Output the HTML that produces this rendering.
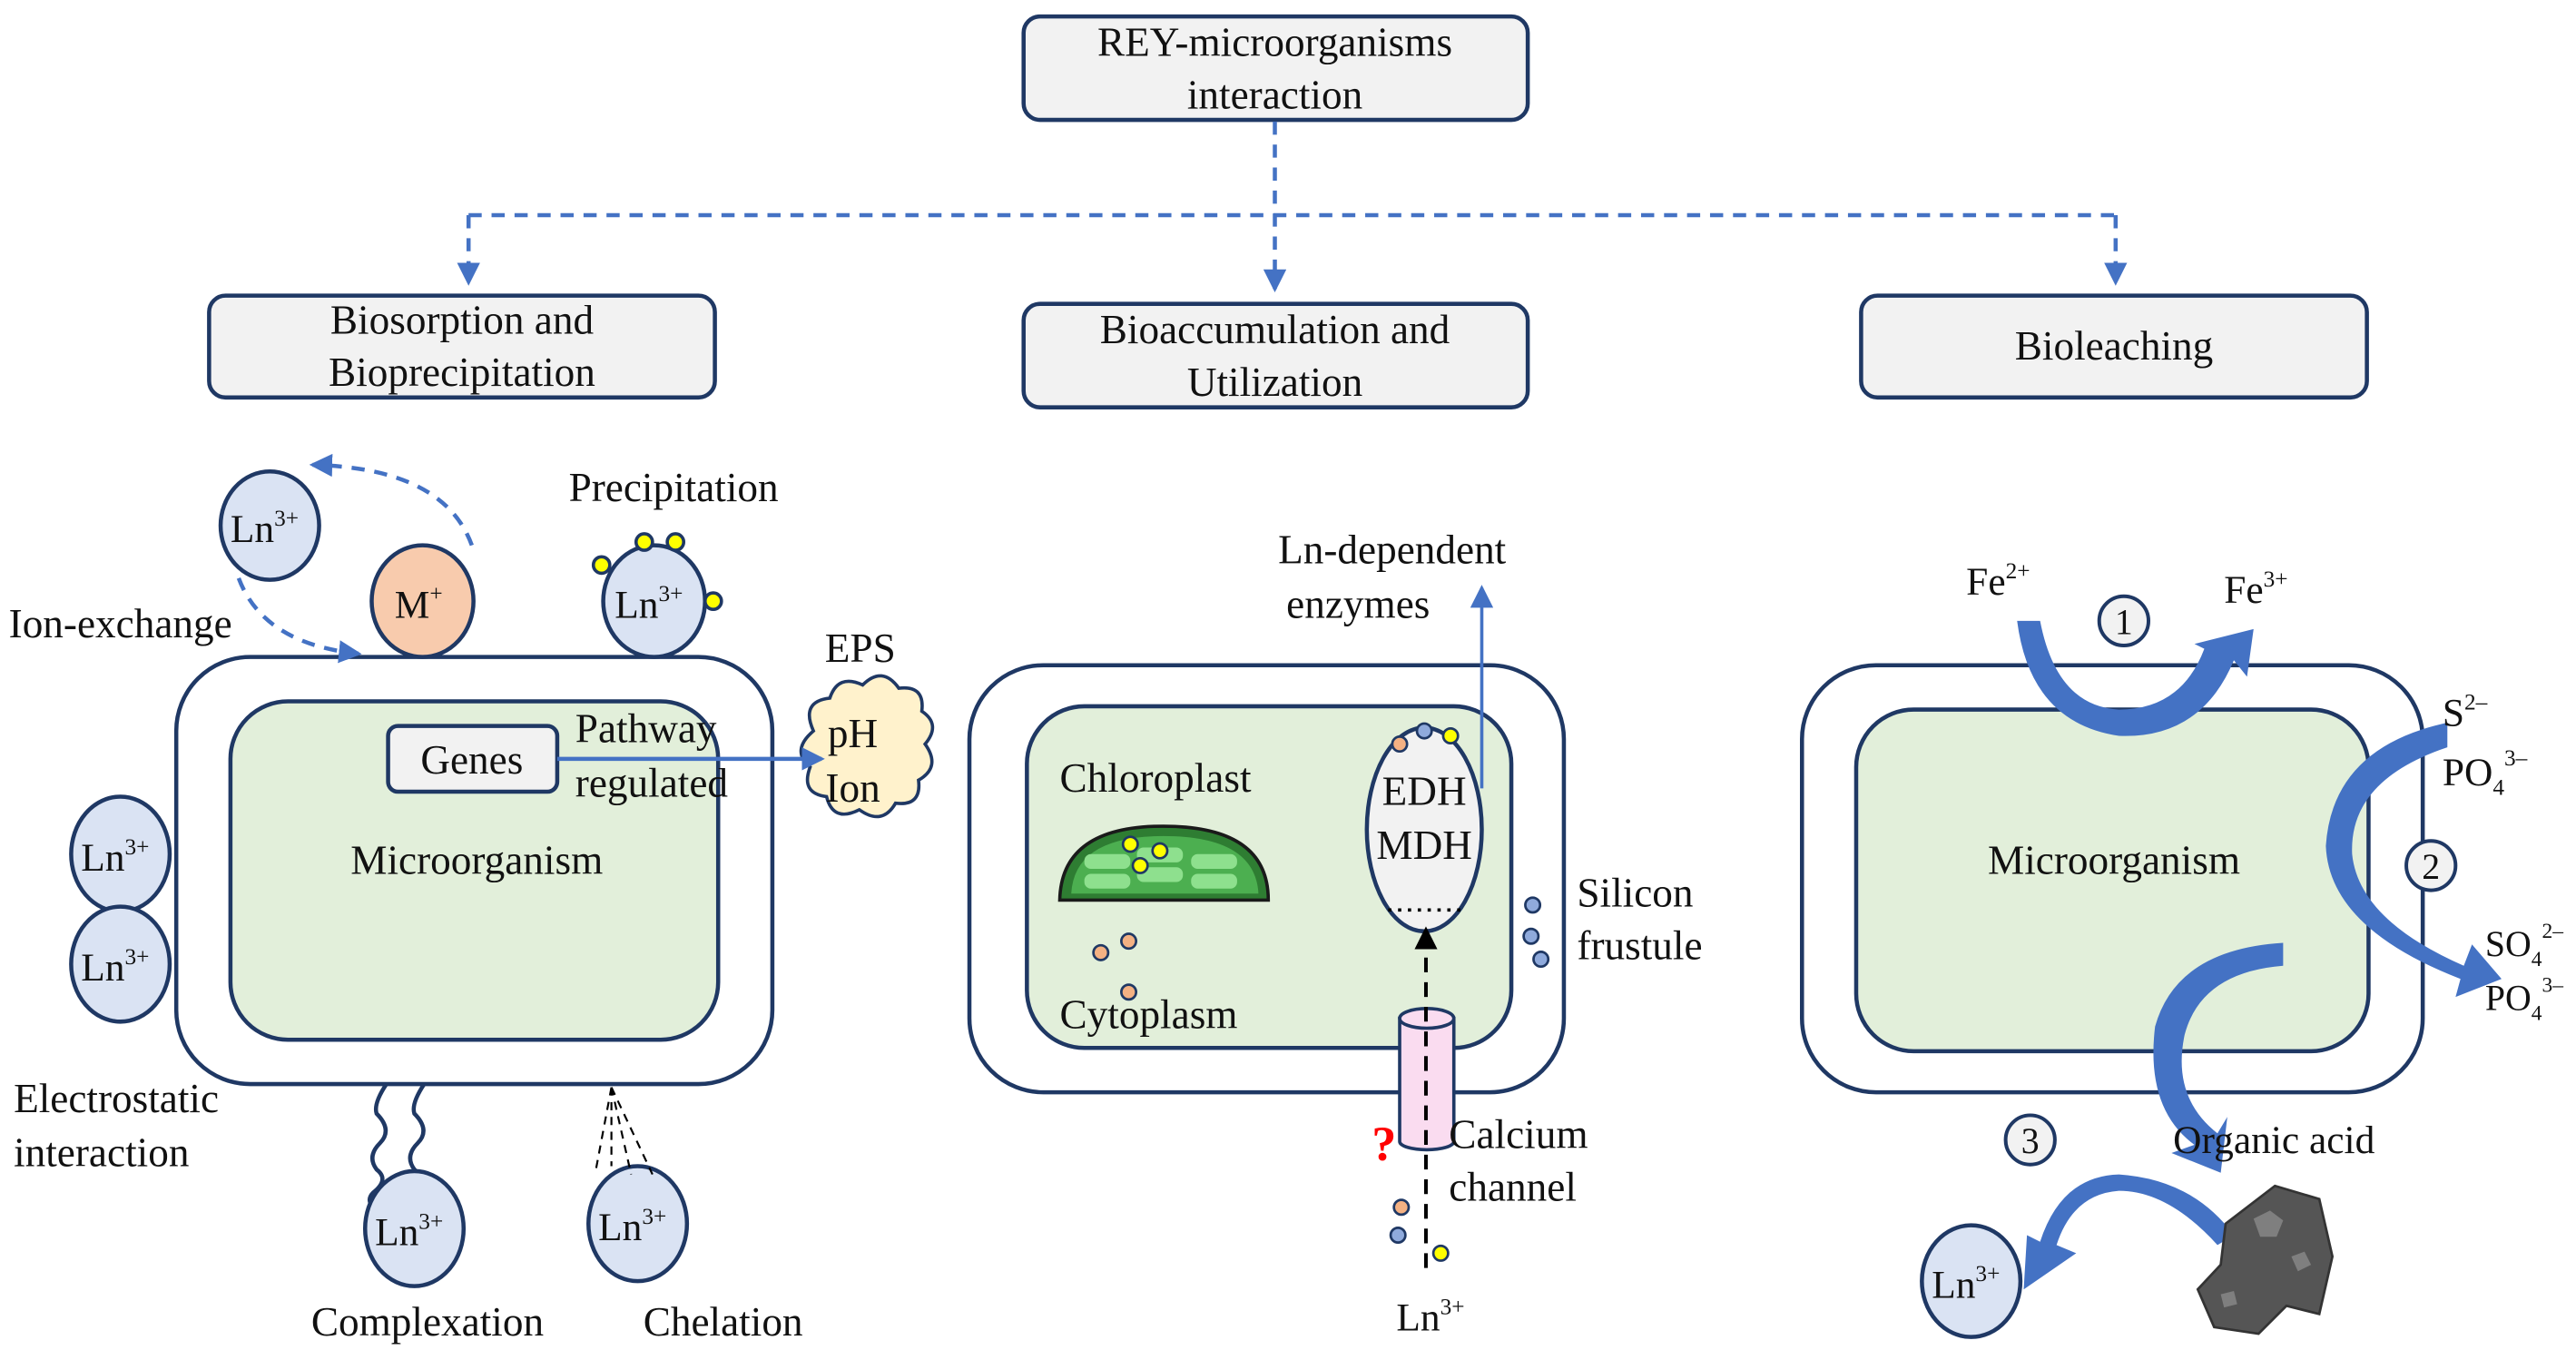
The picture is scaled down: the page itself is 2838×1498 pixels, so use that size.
<!DOCTYPE html>
<html><head><meta charset="utf-8"><style>
html,body{margin:0;padding:0;background:#fff;}
svg{display:block;}
text{font-family:"Liberation Serif",serif;fill:#111;}
</style></head><body>
<svg width="2838" height="1498" viewBox="0 0 1568 828" xmlns="http://www.w3.org/2000/svg">
<defs>
<marker id="ab" markerWidth="14" markerHeight="14" refX="12" refY="7" orient="auto" markerUnits="userSpaceOnUse"><path d="M0,0 L14,7 L0,14 z" fill="#4472c4"/></marker>
<marker id="ak" markerWidth="14" markerHeight="14" refX="12" refY="7" orient="auto" markerUnits="userSpaceOnUse"><path d="M0,0 L14,7 L0,14 z" fill="#000"/></marker>
</defs>
<g stroke="#1f3864" stroke-width="2.5">
<rect x="623" y="10" width="307" height="63" rx="10" fill="#f2f2f2"/>
<rect x="127" y="180" width="308" height="62" rx="10" fill="#f2f2f2"/>
<rect x="623" y="185" width="307" height="63" rx="10" fill="#f2f2f2"/>
<rect x="1133" y="180" width="308" height="62" rx="10" fill="#f2f2f2"/>
</g>
<g font-size="25" text-anchor="middle">
<text x="776" y="34">REY-microorganisms</text><text x="776" y="66">interaction</text>
<text x="281" y="203">Biosorption and</text><text x="281" y="235">Bioprecipitation</text>
<text x="776" y="209">Bioaccumulation and</text><text x="776" y="241">Utilization</text>
<text x="1287" y="219">Bioleaching</text>
</g>
<g stroke="#4472c4" stroke-width="2.5" fill="none" stroke-dasharray="8,6">
<path d="M776,74 V176" marker-end="url(#ab)"/>
<path d="M285,131 H1288"/>
<path d="M285,131 V172" marker-end="url(#ab)"/>
<path d="M1288,131 V172" marker-end="url(#ab)"/>
</g>

<!-- LEFT CELL -->
<g stroke="#1f3864" stroke-width="2.5">
<rect x="107" y="400" width="363" height="260" rx="45" fill="#fff"/>
<rect x="140" y="427" width="297" height="206" rx="35" fill="#e2efda"/>
<rect x="236" y="442" width="103" height="40" rx="6" fill="#f2f2f2"/>
</g>
<text x="287" y="471" font-size="25" text-anchor="middle">Genes</text>
<text x="350" y="452" font-size="25">Pathway</text>
<text x="350" y="485" font-size="25">regulated</text>
<path d="M495,445 q-8,-18 10,-20 q5,-15 20,-8 q12,-12 22,2 q16,-2 14,14 q12,8 2,20 q10,14 -4,22 q2,16 -14,14 q-8,14 -22,4 q-16,8 -20,-8 q-16,-2 -10,-18 q-12,-10 2,-22z" fill="#fff2cc" stroke="#1f3864" stroke-width="2"/>
<path d="M339,462 H500" stroke="#4472c4" stroke-width="2.5" marker-end="url(#ab)"/>
<text x="502" y="403" font-size="25">EPS</text>
<text x="519" y="455" font-size="25" text-anchor="middle">pH</text>
<text x="519" y="488" font-size="25" text-anchor="middle">Ion</text>
<text x="290" y="532" font-size="25" text-anchor="middle">Microorganism</text>

<g stroke="#1f3864" stroke-width="2.5" fill="none">
<path d="M235,660 q-8,12 -6,18 q10,10 2,18 q-8,8 -2,16 q8,6 -2,14 q-6,6 4,12"/>
<path d="M258,660 q-8,12 -6,18 q10,10 2,18 q-8,8 -2,16 q8,6 -2,14 q-6,6 6,22"/>
</g>
<g stroke="#1f3864" stroke-width="2.5" fill="#dae3f3">
<ellipse cx="164" cy="320" rx="30" ry="33"/>
<ellipse cx="257" cy="366" rx="31" ry="34" fill="#f8cbad"/>
<ellipse cx="398" cy="366" rx="31" ry="34"/>
<ellipse cx="73" cy="520" rx="30" ry="35"/>
<ellipse cx="73" cy="587" rx="30" ry="35"/>
<ellipse cx="252" cy="748" rx="30" ry="35"/>
<ellipse cx="388" cy="745" rx="30" ry="35"/>
</g>
<g fill="#ffff00" stroke="#1f3864" stroke-width="2">
<circle cx="366" cy="344" r="5"/><circle cx="392" cy="330" r="5"/><circle cx="411" cy="330" r="5"/><circle cx="434" cy="366" r="5"/>
</g>
<g font-size="24">
<text x="140" y="330">Ln<tspan font-size="14" dy="-10">3+</tspan></text>
<text x="240" y="376">M<tspan font-size="14" dy="-10">+</tspan></text>
<text x="374" y="376">Ln<tspan font-size="14" dy="-10">3+</tspan></text>
<text x="49" y="530">Ln<tspan font-size="14" dy="-10">3+</tspan></text>
<text x="49" y="597">Ln<tspan font-size="14" dy="-10">3+</tspan></text>
<text x="228" y="758">Ln<tspan font-size="14" dy="-10">3+</tspan></text>
<text x="364" y="755">Ln<tspan font-size="14" dy="-10">3+</tspan></text>
</g>
<g stroke="#4472c4" stroke-width="2.5" fill="none" stroke-dasharray="8,6">
<path d="M145,352 Q160,392 218,398" marker-end="url(#ab)"/>
<path d="M287,332 Q270,285 190,283" marker-end="url(#ab)"/>
</g>
<text x="5" y="388" font-size="25">Ion-exchange</text>
<text x="346" y="305" font-size="25">Precipitation</text>
<text x="8" y="677" font-size="25">Electrostatic</text>
<text x="8" y="710" font-size="25">interaction</text>
<g stroke="#000" stroke-width="1.2" stroke-dasharray="5,4" fill="none">
<path d="M372,662 L362,715 M372,662 L372,710 M372,662 L384,715 M372,662 L397,715"/>
</g>
<text x="260" y="813" font-size="25" text-anchor="middle">Complexation</text>
<text x="440" y="813" font-size="25" text-anchor="middle">Chelation</text>

<!-- MIDDLE CELL -->
<g stroke="#1f3864" stroke-width="2.5">
<rect x="590" y="405" width="362" height="260" rx="45" fill="#fff"/>
<rect x="625" y="430" width="295" height="208" rx="35" fill="#e2efda"/>
<ellipse cx="867" cy="505" rx="35" ry="62" fill="#f2f2f2"/>
</g>
<text x="645" y="482" font-size="25">Chloroplast</text>
<text x="645" y="626" font-size="25">Cytoplasm</text>
<g>
<path d="M645,548 Q646,503 708,503 Q772,503 772,548 Z" fill="#2e7d32" stroke="#1a1a1a" stroke-width="2"/>
<path d="M652,544 Q654,509 708,509 Q764,509 766,544 Z" fill="#4caf50"/>
<rect x="660" y="520" width="28" height="9" rx="4" fill="#8ee08e"/><rect x="660" y="532" width="28" height="9" rx="4" fill="#8ee08e"/>
<rect x="692" y="516" width="28" height="9" rx="4" fill="#8ee08e"/><rect x="692" y="528" width="28" height="9" rx="4" fill="#8ee08e"/>
<rect x="725" y="520" width="28" height="9" rx="4" fill="#8ee08e"/><rect x="725" y="532" width="28" height="9" rx="4" fill="#8ee08e"/>
</g>
<g fill="#ffff00" stroke="#1f3864" stroke-width="1.5"><circle cx="688" cy="514" r="4.5"/><circle cx="706" cy="518" r="4.5"/><circle cx="694" cy="527" r="4.5"/></g>
<g fill="#f4b183" stroke="#1f3864" stroke-width="1.5"><circle cx="670" cy="580" r="4.5"/><circle cx="687" cy="573" r="4.5"/><circle cx="687" cy="604" r="4.5"/><circle cx="852" cy="453" r="4.5"/><circle cx="853" cy="735" r="4.5"/></g>
<g fill="#8faadc" stroke="#1f3864" stroke-width="1.5"><circle cx="867" cy="445" r="4.5"/><circle cx="933" cy="551" r="4.5"/><circle cx="932" cy="570" r="4.5"/><circle cx="938" cy="584" r="4.5"/><circle cx="851" cy="752" r="4.5"/></g>
<g fill="#ffff00" stroke="#1f3864" stroke-width="1.5"><circle cx="883" cy="448" r="4.5"/><circle cx="877" cy="763" r="4.5"/></g>
<text x="867" y="490" font-size="25" text-anchor="middle">EDH</text>
<text x="867" y="523" font-size="25" text-anchor="middle">MDH</text>
<path d="M845,554 H890" stroke="#000" stroke-width="2" stroke-dasharray="2,4"/>
<path d="M902,480 V358" stroke="#4472c4" stroke-width="2" marker-end="url(#ab)"/>
<text x="778" y="343" font-size="25">Ln-dependent</text>
<text x="783" y="376" font-size="25">enzymes</text>
<text x="960" y="552" font-size="25">Silicon</text>
<text x="960" y="584" font-size="25">frustule</text>
<path d="M852,620 V695 A16.5,5 0 0 0 885,695 V620 Z" fill="#fadcf0" stroke="#1f3864" stroke-width="2"/>
<ellipse cx="868.5" cy="620" rx="16.5" ry="6" fill="#fadcf0" stroke="#1f3864" stroke-width="2"/>
<path d="M868,772 V566" stroke="#000" stroke-width="2.2" stroke-dasharray="9,6" fill="none" marker-end="url(#ak)"/>
<text x="835" y="706" font-size="30" font-weight="bold" style="fill:#ff0000">?</text>
<text x="882" y="699" font-size="25">Calcium</text>
<text x="882" y="731" font-size="25">channel</text>
<text x="850" y="810" font-size="24">Ln<tspan font-size="14" dy="-10">3+</tspan></text>

<!-- RIGHT CELL -->
<g stroke="#1f3864" stroke-width="2.5">
<rect x="1097" y="405" width="378" height="260" rx="45" fill="#fff"/>
<rect x="1130" y="432" width="312" height="208" rx="35" fill="#e2efda"/>
</g>
<text x="1287" y="532" font-size="25" text-anchor="middle">Microorganism</text>
<g fill="#4472c4">
<path d="M1228,378 L1242,378 Q1252,430 1290,432 Q1328,432 1342,395 L1336,392 L1372,383 L1368,412 L1360,402 Q1340,450 1290,448 Q1236,440 1228,378 Z"/>
<path d="M1490,440 L1490,455 Q1430,475 1432,520 Q1436,560 1500,588 L1505,575 L1523,596 L1495,607 L1498,596 Q1418,565 1416,515 Q1420,455 1490,440 Z"/>
<path d="M1390,574 L1390,588 Q1340,592 1330,630 Q1322,668 1350,690 L1356,680 L1352,714 L1322,702 L1336,697 Q1306,675 1312,625 Q1325,578 1390,574 Z"/>
<path d="M1360,752 L1350,758 Q1320,725 1290,725 Q1262,727 1252,758 L1264,763 L1232,785 L1234,752 L1242,756 Q1255,716 1290,715 Q1335,718 1360,752 Z"/>
</g>
<g fill="#f2f2f2" stroke="#1f3864" stroke-width="2.2">
<circle cx="1293" cy="378" r="15"/><circle cx="1480" cy="527" r="15"/><circle cx="1236" cy="694" r="15"/>
</g>
<g font-size="22" text-anchor="middle"><text x="1293" y="386">1</text><text x="1480" y="535">2</text><text x="1236" y="702">3</text></g>
<g font-size="24">
<text x="1197" y="362">Fe<tspan font-size="14" dy="-10">2+</tspan></text>
<text x="1354" y="367">Fe<tspan font-size="14" dy="-10">3+</tspan></text>
<text x="1487" y="442">S<tspan font-size="14" dy="-10">2–</tspan></text>
<text x="1487" y="478">PO<tspan font-size="14" dy="6">4</tspan><tspan font-size="14" dy="-18">3–</tspan></text>
<text x="1513" y="582" font-size="22">SO<tspan font-size="13" dy="6">4</tspan><tspan font-size="13" dy="-17">2–</tspan></text>
<text x="1513" y="615" font-size="22">PO<tspan font-size="13" dy="6">4</tspan><tspan font-size="13" dy="-17">3–</tspan></text>
<text x="1323" y="702">Organic acid</text>
</g>
<ellipse cx="1200" cy="780" rx="30" ry="34" fill="#dae3f3" stroke="#1f3864" stroke-width="2.5"/>
<text x="1176" y="790" font-size="24">Ln<tspan font-size="14" dy="-10">3+</tspan></text>
<path d="M1355,745 L1385,722 L1412,730 L1420,765 L1412,800 L1392,795 L1375,812 L1348,808 L1338,785 L1352,770 Z" fill="#555" stroke="#333" stroke-width="1.5"/>
<path d="M1372,742 l10,-5 l8,6 l-4,10 l-10,0 z M1395,765 l8,-3 l4,8 l-8,4 z M1352,788 l8,-2 l2,8 l-8,2 z" fill="#7f7f7f"/>
</svg>
</body></html>
